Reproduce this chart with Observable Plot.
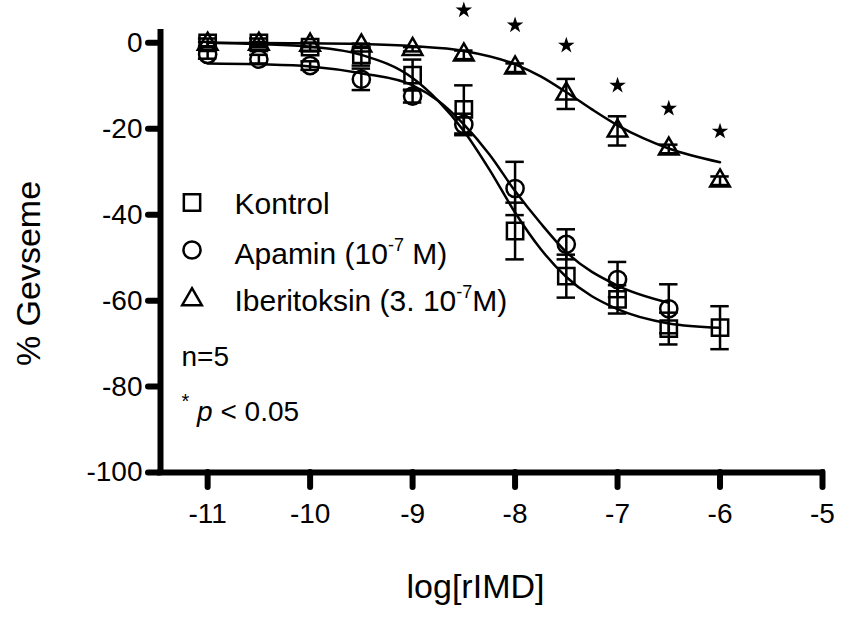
<!DOCTYPE html>
<html>
<head>
<meta charset="utf-8">
<script src="https://cdn.jsdelivr.net/npm/d3@7"></script>
<script src="https://cdn.jsdelivr.net/npm/@observablehq/plot@0.6"></script>
<style>
  html, body { margin: 0; padding: 0; background: #fff; }
</style>
</head>
<body>
<div id="chart"></div>
<script>
// ---- data ----
const doses = [-11, -10.5, -10, -9.5, -9, -8.5, -8, -7.5, -7, -6.5, -6];
const xTicks = [-11, -10, -9, -8, -7, -6, -5];
const yTicks = [0, -20, -40, -60, -80, -100];

const kontrolMean = [0, 0, -1, -2.8, -7.5, -15.5, -43.8, -54.3, -59.7, -66.5, -66.3];
const kontrolSem  = [1, 1, 1, 2.5, 3.6, 5.6, 6.6, 5, 3.3, 3.7, 5];

const apaminMean = [-2.7, -3.8, -5.3, -8.5, -12.4, -19, -33.9, -46.9, -55.1, -61.9];
const apaminSem  = [1, 1, 1, 2.5, 1.5, 2.5, 6.2, 3.5, 4.1, 5.7];

const iberMean = [-0.3, -0.3, -0.5, -0.7, -1.5, -2.8, -5.8, -11.9, -20.5, -24.7, -32.1];
const iberSem  = [0.5, 0.5, 0.5, 0.5, 0.5, 1, 1, 3.5, 3.4, 1, 1];

// fitted curves
const kontrolCurveX = [-11, -10.5, -10, -9.5, -9, -8.75, -8.5, -8.25, -8, -7.75, -7.5, -7, -6.5, -6];
const kontrolCurveY = [0, -0.3, -0.9, -2.8, -8.2, -13.5, -20.5, -29.5, -39.5, -48, -54.5, -62, -65.3, -66.3];
const apaminCurveX = [-11, -10.5, -10, -9.5, -9, -8.75, -8.5, -8.25, -8, -7.75, -7.5, -7, -6.5];
const apaminCurveY = [-4.8, -5, -5.5, -7.1, -9.9, -13.5, -19, -26, -34.5, -42, -48.7, -56.5, -60.5];
const iberCurveX = [-11, -10.5, -10, -9.5, -9, -8.5, -8, -7.75, -7.5, -7.25, -7, -6.75, -6.5, -6];
const iberCurveY = [0, -0.05, -0.1, -0.3, -0.8, -1.9, -5, -7.8, -11.5, -15.5, -19.2, -22.2, -24.6, -27.8];

const starX = [-8.5, -8, -7.5, -7, -6.5, -6];
const starY = [7.6, 4.1, -0.6, -9.9, -15.3, -20.6];

const seriesNames = ["Kontrol", "Apamin", "Iberitoksin"];
const seriesSymbols = ["square", "circle", "triangle"];
const legendLabels = ["Kontrol", "Apamin (10^-7^ M)", "Iberitoksin (3. 10^-7^M)"];
const noteLabels = ["n=5", "^*^ _p_ < 0.05"];
const xLabel = "log[rIMD]";
const yLabel = "% Gevseme";

// ---- build tables ----
const means = [kontrolMean, apaminMean, iberMean];
const sems = [kontrolSem, apaminSem, iberSem];
const points = [];
means.forEach((m, s) => m.forEach((v, i) => points.push({
  series: seriesNames[s], symbol: seriesSymbols[s], x: doses[i], y: v, e: sems[s][i]
})));
const curves = [];
[[kontrolCurveX, kontrolCurveY], [apaminCurveX, apaminCurveY], [iberCurveX, iberCurveY]]
  .forEach(([xs, ys], s) => xs.forEach((x, i) => curves.push({series: seriesNames[s], x, y: ys[i]})));
const stars = starX.map((x, i) => ({x, y: starY[i]}));

const plain = s => s.replace(/[\^_]/g, "");
const markup = new Map([...legendLabels, ...noteLabels].map(s => [plain(s), s]));

const W = 841, H = 625, mL = 160, mR = 19, mT = 32, mB = 153;
const frameW = W - mL - mR, frameH = H - mT - mB;
const xDomain = [-11.46, -5];
const yDomain = [-100, 2.4];
const capHalf = 0.09;
const lw = 2.5;
const axisW = 6;
const symbolR = {square: 9.2, circle: 8.6, triangle: 7.3};

const seriesDots = seriesSymbols.map(sym => Plot.dot(points.filter(d => d.symbol === sym), {
  x: "x", y: "y", symbol: () => sym, r: symbolR[sym],
  stroke: "black", strokeWidth: lw, fill: "none"
}));

const legendMarks = [];
const legendRowDy = [170, 217.5, 267];
const legendTextDy = [181, 231, 278];
seriesSymbols.forEach((sym, i) => {
  legendMarks.push(Plot.dot([sym], {
    frameAnchor: "top-left", dx: 31.5, dy: legendRowDy[i], symbol: d => d,
    r: symbolR[sym], stroke: "black", strokeWidth: lw, fill: "none"
  }));
  legendMarks.push(Plot.text([plain(legendLabels[i])], {
    frameAnchor: "top-left", dx: 74, dy: legendTextDy[i], text: d => d,
    textAnchor: "start", lineAnchor: "bottom", fontSize: 30, fill: "black"
  }));
});
const noteDy = [333, 388];
noteLabels.forEach((s, i) => {
  legendMarks.push(Plot.text([plain(s)], {
    frameAnchor: "top-left", dx: 21, dy: noteDy[i], text: d => d,
    textAnchor: "start", lineAnchor: "bottom", fontSize: 28, fill: "black"
  }));
});

const plot = Plot.plot({
  width: W,
  height: H,
  marginLeft: mL,
  marginRight: mR,
  marginTop: mT,
  marginBottom: mB,
  style: {background: "white", color: "black", fontFamily: "'Liberation Sans', Arial, Helvetica, sans-serif", overflow: "visible"},
  x: {domain: xDomain},
  y: {domain: yDomain},
  marks: [
    Plot.axisY(yTicks, {tickSize: 0, tickPadding: 18, fontSize: 28, label: null, tickFormat: d => String(d)}),
    Plot.axisX(xTicks, {tickSize: 0, tickPadding: 31, fontSize: 28, label: null, tickFormat: d => String(d)}),
    Plot.tickY(yTicks, {y: d => d, insetLeft: -12, insetRight: frameW, stroke: "black", strokeWidth: axisW, strokeLinecap: "round"}),
    Plot.tickX(xTicks, {x: d => d, insetTop: frameH, insetBottom: -15, stroke: "black", strokeWidth: axisW, strokeLinecap: "round"}),
    Plot.ruleX([xDomain[0]], {stroke: "black", strokeWidth: axisW, strokeLinecap: "square"}),
    Plot.ruleY([yDomain[0]], {stroke: "black", strokeWidth: axisW, strokeLinecap: "square"}),
    Plot.line(curves, {x: "x", y: "y", z: "series", curve: "monotone-x", stroke: "black", strokeWidth: lw}),
    Plot.ruleX(points, {x: "x", y1: d => d.y - d.e, y2: d => d.y + d.e, stroke: "black", strokeWidth: lw}),
    Plot.ruleY(points, {y: d => d.y + d.e, x1: d => d.x - capHalf, x2: d => d.x + capHalf, stroke: "black", strokeWidth: lw}),
    Plot.ruleY(points, {y: d => d.y - d.e, x1: d => d.x - capHalf, x2: d => d.x + capHalf, stroke: "black", strokeWidth: lw}),
    ...seriesDots,
    Plot.dot(stars, {x: "x", y: "y", symbol: "star", r: 5.2, fill: "black", stroke: "none"}),
    ...legendMarks,
    Plot.text([yLabel], {frameAnchor: "left", dx: -131, dy: 21, rotate: -90, text: d => d, fontSize: 34, textAnchor: "middle", fill: "black"}),
    Plot.text([xLabel], {frameAnchor: "bottom", dx: -16, dy: 125, text: d => d, fontSize: 34, textAnchor: "middle", fill: "black"})
  ]
});

// superscripts / italics in annotation texts
plot.querySelectorAll("text").forEach(t => {
  const m = markup.get(t.textContent);
  if (!m || m === t.textContent) return;
  t.textContent = "";
  const parts = m.split(/(\^[^\^]*\^|_[^_]*_)/).filter(p => p.length);
  let shift = 0;
  parts.forEach(p => {
    const ts = document.createElementNS("http://www.w3.org/2000/svg", "tspan");
    if (p.startsWith("^")) {
      ts.textContent = p.slice(1, -1);
      ts.setAttribute("font-size", p === "^*^" ? 20 : 18);
      ts.setAttribute("dy", -13 - shift);
      shift = -13;
    } else {
      if (p.startsWith("_")) { ts.textContent = p.slice(1, -1); ts.setAttribute("font-style", "italic"); }
      else ts.textContent = p;
      if (shift !== 0) { ts.setAttribute("dy", -shift); shift = 0; }
    }
    t.appendChild(ts);
  });
});

document.getElementById("chart").appendChild(plot);
</script>
</body>
</html>
